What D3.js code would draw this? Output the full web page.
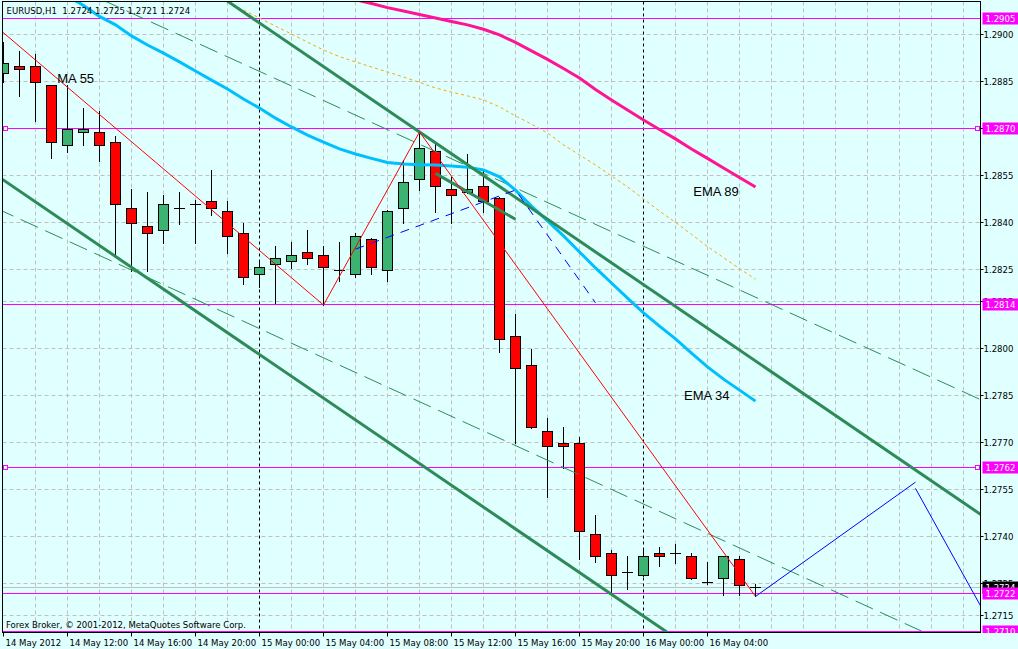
<!DOCTYPE html>
<html><head><meta charset="utf-8">
<script src="https://cdn.jsdelivr.net/npm/d3@7"></script>
<style>
html,body{margin:0;padding:0;background:#E0FFFF;overflow:hidden}
svg{display:block}
</style></head><body>
<svg id="c" width="1018" height="649"></svg>
<script>
// ---------- DATA ----------
const symbolTitle = "EURUSD,H1  1.2724 1.2725 1.2721 1.2724";
const copyright = "Forex Broker, \u00a9 2001-2012, MetaQuotes Software Corp.";
const timeLabels = ["14 May 2012","14 May 12:00","14 May 16:00","14 May 20:00","15 May 00:00","15 May 04:00","15 May 08:00","15 May 12:00","15 May 16:00","15 May 20:00","16 May 00:00","16 May 04:00"];
const timeLabelBars = [0,4,8,12,16,20,24,28,32,36,40,44];
const daySeparatorBars = [16,40];
const priceTicks = [1.2900,1.2885,1.2870,1.2855,1.2840,1.2825,1.2815,1.2800,1.2785,1.2770,1.2755,1.2740,1.2725,1.2715];

const open  = [1.28876,1.28899,1.28899,1.28838,1.28647,1.28688,1.28688,1.28656,1.28446,1.28389,1.28376,1.28446,1.28459,1.28468,1.28436,1.28366,1.28236,1.28268,1.28277,1.28306,1.28296,1.28248,1.28236,1.28348,1.28248,1.28446,1.28538,1.28627,1.28506,1.28497,1.28516,1.28478,1.28038,1.27946,1.27736,1.27698,1.27698,1.27408,1.27347,1.27287,1.27277,1.27347,1.27347,1.27338,1.27257,1.27268,1.27328,1.2724];
const high  = [1.28975,1.28947,1.28936,1.28840,1.28839,1.28766,1.28757,1.28677,1.28507,1.28498,1.28488,1.28498,1.28472,1.28568,1.28468,1.28398,1.28275,1.28327,1.28339,1.28376,1.28327,1.28339,1.28368,1.28351,1.28440,1.28600,1.28689,1.28656,1.28547,1.28619,1.28568,1.28482,1.28109,1.27997,1.27777,1.27750,1.27717,1.27468,1.27358,1.27338,1.27364,1.27367,1.27376,1.27347,1.27320,1.27340,1.27338,1.2725];
const low   = [1.28848,1.28804,1.28724,1.28607,1.28625,1.28647,1.28598,1.28294,1.28247,1.28247,1.28336,1.28397,1.28336,1.28426,1.28305,1.28205,1.28195,1.28145,1.28256,1.28268,1.28138,1.28215,1.28226,1.28236,1.28215,1.28398,1.28505,1.28435,1.28398,1.28494,1.28435,1.27987,1.27698,1.27747,1.27528,1.27618,1.27328,1.27319,1.27216,1.27235,1.27274,1.27306,1.27318,1.27266,1.27250,1.27216,1.27216,1.2721];
const close = [1.28908,1.28889,1.28847,1.28656,1.28698,1.28698,1.28647,1.28459,1.28398,1.28366,1.28459,1.28446,1.28459,1.28446,1.28357,1.28226,1.28258,1.28287,1.28296,1.28287,1.28258,1.28248,1.28358,1.28258,1.28436,1.28529,1.28637,1.28516,1.28487,1.28506,1.28469,1.28029,1.27936,1.27749,1.27689,1.27689,1.27418,1.27338,1.27277,1.27287,1.27338,1.27338,1.27347,1.27268,1.27257,1.27338,1.27248,1.2724];

const ema34 = [null,null,null,1.29154,1.29122,1.29092,1.29057,1.29030,1.28995,1.28966,1.28940,1.28912,1.28883,1.28854,1.28826,1.28794,1.28765,1.28733,1.28705,1.28679,1.28657,1.28635,1.28619,1.28605,1.28592,1.28587,1.28585,1.28584,1.28581,1.28577,1.28568,1.28546,1.28504,1.28453,1.28406,1.28358,1.28307,1.28256,1.28208,1.28160,1.28113,1.28071,1.28030,1.27985,1.27941,1.27902,1.27867,1.27832];
const ema89 = [null,null,null,null,null,null,null,null,null,null,null,null,null,null,null,null,null,null,null,null,1.29132,1.29121,1.29110,1.29098,1.29085,1.29074,1.29063,1.29052,1.29041,1.29030,1.29016,1.28998,1.28974,1.28947,1.28920,1.28891,1.28861,1.28824,1.28791,1.28759,1.28727,1.28697,1.28667,1.28635,1.28605,1.28574,1.28544,1.28514];
const ma55 = [null,null,null,null,null,null,null,null,null,null,null,null,null,null,1.29103,1.29077,1.29052,1.29026,1.29001,1.28975,1.28950,1.28929,1.28912,1.28896,1.28880,1.28864,1.28847,1.28829,1.28816,1.28804,1.28791,1.28769,1.28740,1.28714,1.28686,1.28648,1.28616,1.28584,1.28549,1.28514,1.28476,1.28437,1.28401,1.28363,1.28324,1.28289,1.28254,1.28220];

const zigzag = [[-1,1.29048],[20,1.28138],[26,1.28689],[47,1.2721]];
const blueDashed = [[22,1.28316],[32,1.28504],[37,1.28145]];
const projUp = [[47,1.2721],[57,1.27574]];
const projDown = [[57,1.27554],[62,1.27094]];
const channelUpper = [[12,1.29175],[62,1.27439]];
const channelLower = [[-2,1.28605],[42,1.27078]];
const channelShort = [[27,1.28557],[32,1.28411]];
const dashedUpper = [[0,1.29253],[62,1.27815]];
const dashedLower = [[-2,1.28482],[62,1.26992]];

const levels = [1.2905,1.2870,1.2814,1.2762,1.2722,1.2710];
const markedLevels = [1.2870,1.2762];
const bidPrice = 1.2724;

const notes = [[3.36,1.28844,"MA 55"],[43.11,1.28485,"EMA 89"],[42.53,1.27835,"EMA 34"]];

// ---------- CHART ----------
const W=1018,H=649;
const plotL=2.5, plotR=980.5, plotT=1.5, plotB=632.5;
const svg=d3.select("#c");
svg.append("rect").attr("width",W).attr("height",H).attr("fill","#E0FFFF");

const x = d3.scaleLinear().domain([0,1]).range([3.5,19.5]);
const y = d3.scaleLinear().domain([1.2900,1.2715]).range([34.3,615.3]);
const cr = v => Math.round(v-0.5)+0.5;
const smallFont = '"DejaVu Sans Condensed","Liberation Sans",sans-serif';

svg.append("defs").append("clipPath").attr("id","clip")
  .append("rect").attr("x",3).attr("y",2).attr("width",977).attr("height",630);

const g = svg.append("g").attr("clip-path","url(#clip)");

// grid
const vgrid = d3.range(2,62,2).filter(b=>!daySeparatorBars.includes(b));
g.selectAll(".vg").data(vgrid).join("line")
  .attr("x1",d=>cr(x(d))).attr("x2",d=>cr(x(d))).attr("y1",plotT).attr("y2",plotB)
  .attr("stroke","#c0c0c0").attr("stroke-dasharray","4,3");
g.selectAll(".hg").data(priceTicks).join("line")
  .attr("x1",plotL).attr("x2",plotR).attr("y1",d=>cr(y(d))).attr("y2",d=>cr(y(d)))
  .attr("stroke","#c0c0c0").attr("stroke-dasharray","4,3");
g.selectAll(".ds").data(daySeparatorBars).join("line")
  .attr("x1",d=>cr(x(d))).attr("x2",d=>cr(x(d))).attr("y1",plotT).attr("y2",plotB)
  .attr("stroke","#000").attr("stroke-dasharray","3,3");

// bid line
g.append("line").attr("x1",plotL).attr("x2",plotR).attr("y1",cr(y(bidPrice))).attr("y2",cr(y(bidPrice)))
  .attr("stroke","#c0c0c0");

// levels
g.selectAll(".lv").data(levels).join("line")
  .attr("x1",plotL).attr("x2",plotR).attr("y1",d=>cr(y(d))).attr("y2",d=>cr(y(d)))
  .attr("stroke","#ff00ff");
markedLevels.forEach(p=>{
  [3.5,975.5].forEach(px=>{
    g.append("rect").attr("x",px).attr("y",cr(y(p))-2).attr("width",4).attr("height",4)
      .attr("fill","#E0FFFF").attr("stroke","#ff00ff");
  });
});

// candles
const bars = d3.range(open.length);
const cg = g.append("g");
bars.forEach(i=>{
  const cx = x(i);
  cg.append("line").attr("x1",cx).attr("x2",cx)
    .attr("y1",Math.round(y(high[i]))).attr("y2",Math.round(y(low[i]))+1)
    .attr("stroke","#000");
  const top = Math.round(y(Math.max(open[i],close[i])))+0.5;
  const bot = Math.round(y(Math.min(open[i],close[i])))+0.5;
  if (bot-top < 1) {
    cg.append("line").attr("x1",cx-5.5).attr("x2",cx+5.5).attr("y1",top).attr("y2",top).attr("stroke","#000");
  } else {
    cg.append("rect").attr("x",cx-5).attr("y",top).attr("width",10).attr("height",bot-top)
      .attr("fill",close[i]>=open[i]?"#3CB371":"#ff0000").attr("stroke","#000");
  }
});

// trend lines
const tl = d3.line().x(d=>x(d[0])).y(d=>y(d[1]));
const il = d3.line().defined(d=>d!=null).x((d,i)=>x(i)).y(d=>y(d));

g.append("path").attr("d",tl(dashedUpper)).attr("fill","none").attr("stroke","#2E8B57").attr("stroke-dasharray","19,8");
g.append("path").attr("d",tl(dashedLower)).attr("fill","none").attr("stroke","#2E8B57").attr("stroke-dasharray","19,8");
g.append("path").attr("d",il(ma55)).attr("fill","none").attr("stroke","#FFA500").attr("stroke-dasharray","3,3");
g.append("path").attr("d",il(ema89)).attr("fill","none").attr("stroke","#FF1493").attr("stroke-width",3);
g.append("path").attr("d",il(ema34)).attr("fill","none").attr("stroke","#00BFFF").attr("stroke-width",3);
g.append("path").attr("d",tl(channelUpper)).attr("fill","none").attr("stroke","#2E8B57").attr("stroke-width",3);
g.append("path").attr("d",tl(channelLower)).attr("fill","none").attr("stroke","#2E8B57").attr("stroke-width",3);
g.append("path").attr("d",tl(channelShort)).attr("fill","none").attr("stroke","#2E8B57").attr("stroke-width",3);
g.append("path").attr("d",tl(zigzag)).attr("fill","none").attr("stroke","#ff0000").attr("stroke-width",1);
g.append("path").attr("d",tl(blueDashed)).attr("fill","none").attr("stroke","#0000ff").attr("stroke-dasharray","9,7");
g.append("path").attr("d",tl(projUp)).attr("fill","none").attr("stroke","#0000ff");
g.append("path").attr("d",tl(projDown)).attr("fill","none").attr("stroke","#0000ff");

// text notes
g.selectAll(".note").data(notes).join("text")
  .attr("x",d=>x(d[0])).attr("y",d=>y(d[1]))
  .attr("font-family","'Liberation Sans',Arial,sans-serif").attr("font-size",13).attr("fill","#000")
  .text(d=>d[2]);

// header & copyright
svg.append("text").attr("x",6.5).attr("y",14).attr("font-family",smallFont).attr("font-size",9.5)
  .attr("fill","#000").attr("xml:space","preserve").style("white-space","pre").text(symbolTitle);
svg.append("text").attr("x",6).attr("y",628).attr("font-family",smallFont).attr("font-size",9.5)
  .attr("fill","#000").text(copyright);

// border
svg.append("rect").attr("x",plotL).attr("y",plotT).attr("width",plotR-plotL).attr("height",plotB-plotT)
  .attr("fill","none").attr("stroke","#000");

// right axis
const ya = svg.append("g").attr("transform",`translate(${plotR},0)`)
  .call(d3.axisRight(y).tickValues(priceTicks).tickSize(3).tickPadding(0).tickFormat(d3.format(".4f")));
ya.select(".domain").remove();
ya.selectAll(".tick").attr("transform",d=>`translate(0,${cr(y(d))})`);
ya.selectAll("text").attr("font-family",smallFont).attr("font-size",9.5).attr("fill","#000").attr("x",3);
ya.selectAll("line").attr("stroke","#000");

// bottom axis
const xa = svg.append("g").attr("transform",`translate(0,${plotB})`)
  .call(d3.axisBottom(x).tickValues(timeLabelBars).tickSize(4).tickPadding(3).tickFormat((d,i)=>timeLabels[i]));
xa.select(".domain").remove();
xa.selectAll(".tick").attr("transform",d=>`translate(${cr(x(d))},0)`);
xa.selectAll("text").attr("font-family",smallFont).attr("font-size",9.5).attr("fill","#000")
  .attr("text-anchor","start").attr("x",2);
xa.selectAll("line").attr("stroke","#000");

// price labels on axis
const lab = svg.append("g").attr("clip-path",null);
svg.append("defs").append("clipPath").attr("id","axclip").append("rect").attr("x",981).attr("y",0).attr("width",40).attr("height",633);
const labG = svg.append("g").attr("clip-path","url(#axclip)");
function priceBox(p, bg){
  const yy = cr(y(p));
  labG.append("rect").attr("x",982.5).attr("y",yy-6).attr("width",36).attr("height",12).attr("fill",bg);
  labG.append("text").attr("x",985.5).attr("y",yy).attr("dy","0.35em").attr("font-family",smallFont)
    .attr("font-size",9.5).attr("fill","#fff").text(d3.format(".4f")(p));
}
priceBox(bidPrice,"#000");
levels.forEach(p=>priceBox(p,"#ff00ff"));
</script></body></html>
